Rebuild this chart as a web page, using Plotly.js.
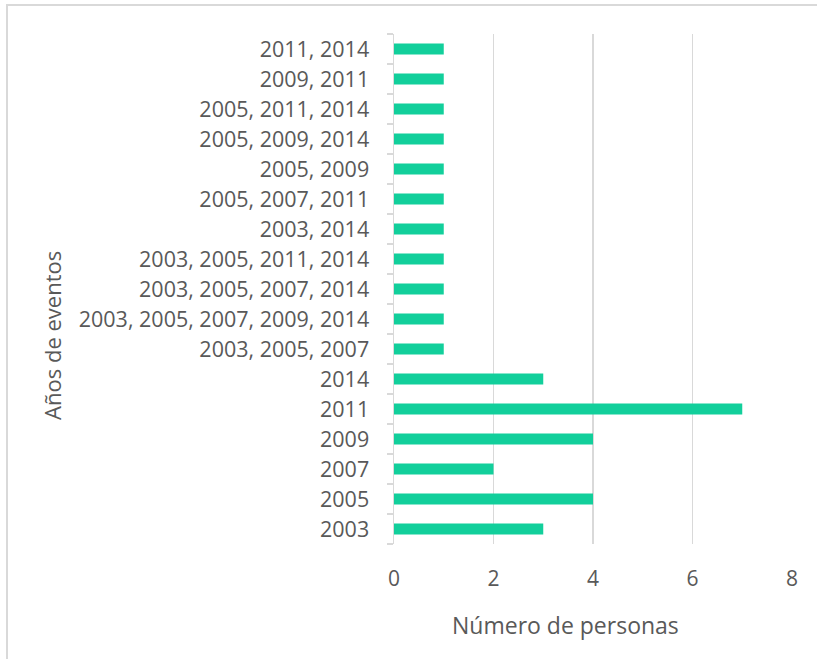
<!DOCTYPE html>
<html>
<head>
<meta charset="utf-8">
<script src="https://cdn.plot.ly/plotly-3.0.1.min.js"></script>
<style>
html,body{margin:0;padding:0;background:#fff;}
#wrap{position:absolute;left:0;top:0;width:817px;height:659px;overflow:hidden;}
#frame{position:absolute;left:6px;top:4px;width:830px;height:680px;border:2px solid #d9d9d9;box-sizing:border-box;}
#chart{position:absolute;left:0;top:0;width:817px;height:659px;}
</style>
</head>
<body>
<div id="wrap">
<div id="frame"></div>
<div id="chart"></div>
</div>
<script>
const categories = [
  "2003", "2005", "2007", "2009", "2011", "2014",
  "2003, 2005, 2007",
  "2003, 2005, 2007, 2009, 2014",
  "2003, 2005, 2007, 2014",
  "2003, 2005, 2011, 2014",
  "2003, 2014",
  "2005, 2007, 2011",
  "2005, 2009",
  "2005, 2009, 2014",
  "2005, 2011, 2014",
  "2009, 2011",
  "2011, 2014"
];
const personas = [3, 4, 2, 4, 7, 3, 1, 1, 1, 1, 1, 1, 1, 1, 1, 1, 1];
const xTicks = [0, 2, 4, 6, 8];
const xTitle = "Número de personas";
const yTitle = "Años de eventos";

const fontFam = "'Open Sans', sans-serif";
const txt = "#595959";

Plotly.newPlot("chart", [{
  type: "bar",
  orientation: "h",
  x: personas,
  y: categories,
  marker: {color: "#12cf9b"},
  hoverinfo: "x+y"
}], {
  width: 817, height: 659,
  paper_bgcolor: "rgba(0,0,0,0)",
  plot_bgcolor: "rgba(0,0,0,0)",
  margin: {l: 394, r: 25, t: 34, b: 115},
  bargap: 0.64,
  showlegend: false,
  font: {family: fontFam, color: txt, size: 21},
  xaxis: {
    range: [0, 8],
    tickvals: xTicks,
    showgrid: true,
    gridcolor: "#d9d9d9",
    gridwidth: 1.5,
    zeroline: false,
    showline: false,
    ticks: "",
    ticklabelstandoff: 20,
    tickfont: {family: fontFam, color: txt, size: 21},
    fixedrange: true
  },
  yaxis: {
    type: "category",
    categoryorder: "array",
    categoryarray: categories,
    showgrid: false,
    zeroline: false,
    showline: true,
    linecolor: "#d9d9d9",
    linewidth: 1.5,
    ticks: "outside",
    tickson: "boundaries",
    ticklen: 6,
    tickcolor: "#d9d9d9",
    tickwidth: 1.5,
    ticklabelstandoff: 19,
    tickfont: {family: fontFam, color: txt, size: 21.5},
    fixedrange: true
  },
  annotations: [
    {text: xTitle, xref: "paper", yref: "paper", x: 0.43, y: 0, yshift: -81, xanchor: "center", yanchor: "middle", showarrow: false, font: {family: fontFam, color: txt, size: 23}},
    {text: yTitle, xref: "paper", yref: "paper", x: 0, xshift: -342, y: 0.408, textangle: -90, xanchor: "center", yanchor: "middle", showarrow: false, font: {family: fontFam, color: txt, size: 22}}
  ]
}, {displayModeBar: false, staticPlot: true});
</script>
</body>
</html>
